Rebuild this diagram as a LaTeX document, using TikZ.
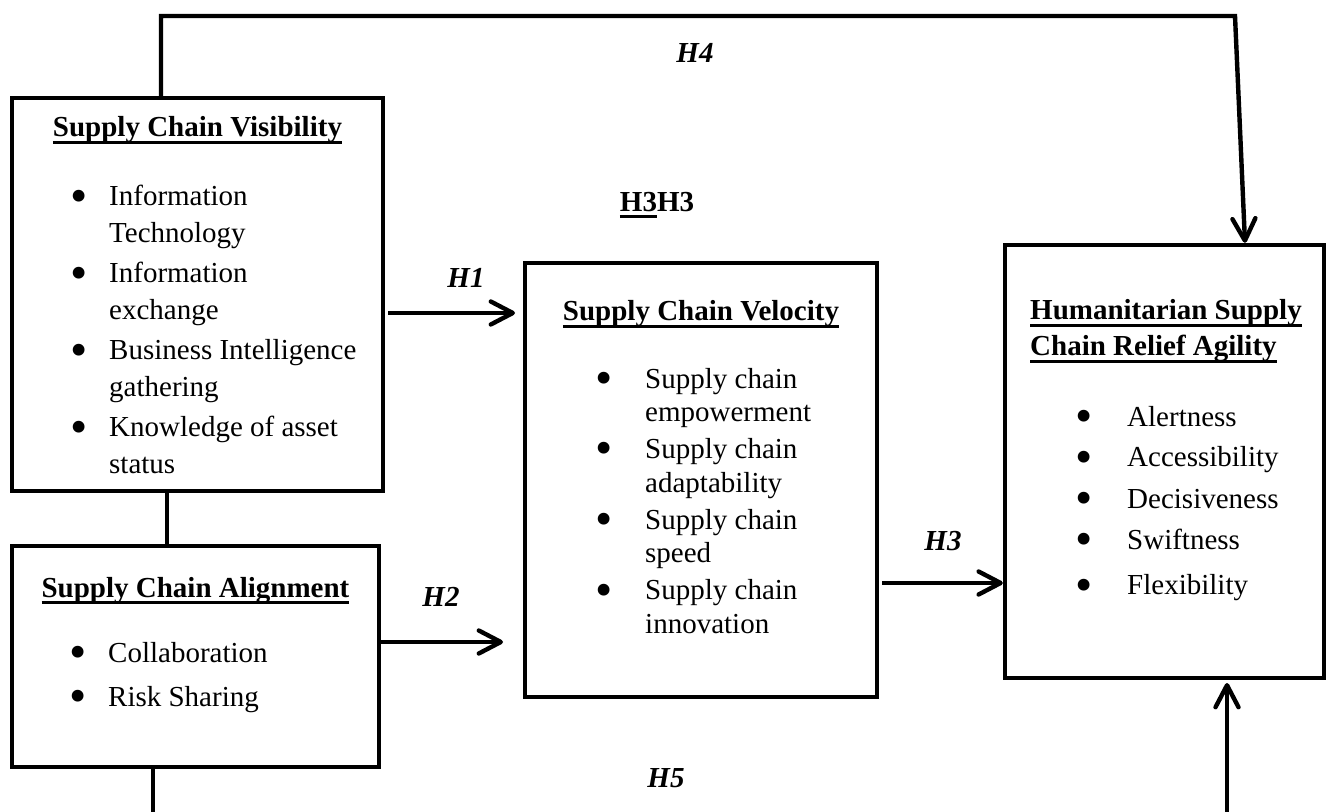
\documentclass[tikz,border=0pt]{standalone}
\usepackage{fontspec}
\setmainfont{Liberation Serif}
\usetikzlibrary{arrows.meta}

% underline at a fixed depth, as in the original
\newcommand{\ulin}[1]{\setbox0\hbox{#1}\rlap{\rule[-3.3pt]{\wd0}{1.5pt}}\box0}
\newcommand{\bul}{\makebox[0pt]{\raisebox{-3.1pt}{\scalebox{1.7}{\textbullet}}}}

\begin{document}
\begin{tikzpicture}[x=0.5pt, y=-0.5pt, line width=2.2pt,
		box/.style={draw, inner sep=0pt},
		head/.style={font=\fontsize{14.5}{18}\selectfont\bfseries, anchor=base, inner sep=0pt},
		list/.style={anchor=base west, inner sep=0pt},
		hyp/.style={font=\fontsize{14.5}{18}\selectfont\bfseries\itshape},
		link/.style={-{Straight Barb[length=11pt, width=11.5pt, round]}}]
		\useasboundingbox (0,0) rectangle (1327,812);
		
		% boxes
		\node[box, minimum width=185.5pt, minimum height=196.5pt] (vis) at (197.5,294.5) {};
		\node[box, minimum width=183.5pt, minimum height=110.5pt] (ali) at (195.5,656.5) {};
		\node[box, minimum width=176pt, minimum height=217pt] (vel) at (701,480) {};
		\node[box, minimum width=159.5pt, minimum height=216.5pt] (agi) at (1164.5,461.5) {};
		
		% titles
		\node[head] (vistitle) at ([yshift=-20.6pt]vis.north) {\ulin{Supply Chain Visibility}};
		\node[head] (alititle) at ([yshift=-26.6pt]ali.north) {\ulin{Supply Chain Alignment}};
		\node[head] (veltitle) at ([yshift=-30.1pt]vel.north) {\ulin{Supply Chain Velocity}};
		\node[head, anchor=base west] (agititle) at ([xshift=12.6pt, yshift=-38.6pt]agi.north west)
		{\begin{tabular}[t]{@{}l@{}}\ulin{Humanitarian Supply}\\ \ulin{Chain Relief Agility}\end{tabular}};
		
		% bullet lists
		\node[list, font=\fontsize{14.5}{18.5}\selectfont] (vislist) at ([xshift=33.6pt, yshift=-55.1pt]vis.north west)
		{\begin{tabular}[t]{@{}c@{\hspace{15pt}}l@{}}
				\bul & Information\\ & Technology\\[1.5pt]
				\bul & Information\\ & exchange\\[1.5pt]
				\bul & Business Intelligence\\ & gathering\\[1.5pt]
				\bul & Knowledge of asset\\ & status
		\end{tabular}};
		\node[list, font=\fontsize{14.5}{22}\selectfont] (alilist) at ([xshift=33.1pt, yshift=-59.1pt]ali.north west)
		{\begin{tabular}[t]{@{}c@{\hspace{15pt}}l@{}}
				\bul & Collaboration\\
				\bul & Risk Sharing
		\end{tabular}};
		\node[list, font=\fontsize{14.5}{16.8}\selectfont] (vellist) at ([xshift=39.6pt, yshift=-63.6pt]vel.north west)
		{\begin{tabular}[t]{@{}c@{\hspace{20.5pt}}l@{}}
				\bul & Supply chain\\ & empowerment\\[1.7pt]
				\bul & Supply chain\\ & adaptability\\[1.7pt]
				\bul & Supply chain\\ & speed\\[1.7pt]
				\bul & Supply chain\\ & innovation
		\end{tabular}};
		\node[list, font=\fontsize{14.5}{20.5}\selectfont] (agilist) at ([xshift=39.6pt, yshift=-91.6pt]agi.north west)
		{\begin{tabular}[t]{@{}c@{\hspace{21.5pt}}l@{}}
				\bul & Alertness\\
				\bul & Accessibility\\
				\bul & Decisiveness\\
				\bul & Swiftness\\[2.5pt]
				\bul & Flexibility
		\end{tabular}};
		
		% links
		\coordinate (h4a) at (161,16);
		\coordinate (h4b) at (1235,16);
		\draw[link] ([xshift=75.6pt]vis.north west) -- (h4a) -- (h4b) -- ([xshift=-40.6pt]agi.north east);
		\draw ([xshift=78.6pt]vis.south west) -- ([xshift=78.6pt]ali.north west);
		\draw[link, shorten <=1.4pt, shorten >=3.9pt] ([yshift=-9.25pt]vis.east) -- ([yshift=-9.25pt]vis.east -| vel.west);
		\draw[link, shorten >=9.9pt] ([yshift=7.25pt]ali.east) -- ([yshift=7.25pt]ali.east -| vel.west);
		\draw[link, shorten <=1.4pt] ([yshift=-51.5pt]vel.east) -- ([yshift=-51.5pt]vel.east -| agi.west);
		\coordinate (h5a) at (153,830);
		\coordinate (h5b) at (1227,830);
		\draw ([xshift=71.6pt]ali.south west) -- (h5a);
		\draw[link, shorten >=1.4pt] (h5b) -- ([xshift=112.1pt]agi.south west);
		
		% hypothesis labels
		\node[hyp] (h1) at (466,278) {H1};
		\node[hyp] (h2) at (441,597) {H2};
		\node[hyp] (h3) at (943,541) {H3};
		\node[hyp] (h4) at (695,53) {H4};
		\node[hyp] (h5) at (666,778) {H5};
		\node[head, anchor=center] (h3h3) at (657,205) {\ulin{H3}H3};
\end{tikzpicture}
\end{document}
